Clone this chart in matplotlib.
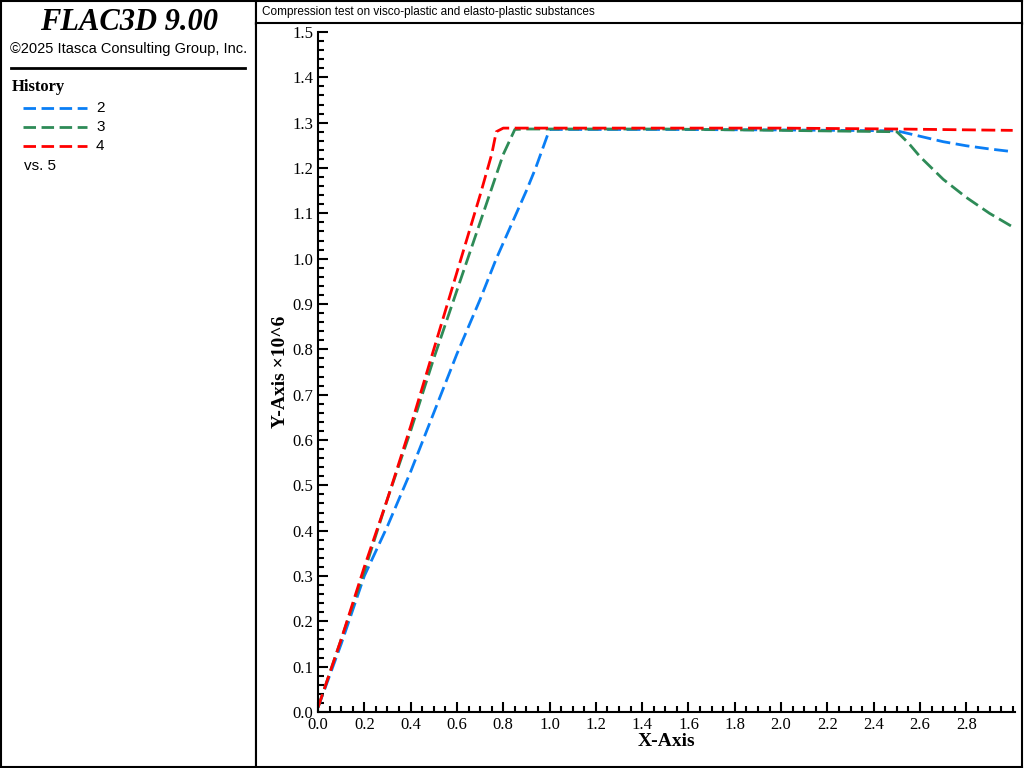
import matplotlib.pyplot as plt
from matplotlib.ticker import MultipleLocator

# history data (y in units of 1e6)
x_h2 = [0.0, 0.1, 0.2, 0.3, 0.4, 0.5, 0.6, 0.7, 0.77, 0.9, 0.94, 1.0, 1.5, 2.0, 2.5, 2.6, 2.7, 2.8, 2.9, 3.0]
y_h2 = [0.01, 0.15, 0.30, 0.41, 0.53, 0.66, 0.79, 0.91, 1.0, 1.15, 1.2, 1.285, 1.285, 1.284, 1.282, 1.270, 1.258, 1.249, 1.242, 1.236]
x_h3 = [0.0, 0.1, 0.2, 0.3, 0.4, 0.5, 0.6, 0.7, 0.8, 0.85, 0.9, 1.5, 2.0, 2.5, 2.55, 2.6, 2.7, 2.8, 2.9, 3.0]
y_h3 = [0.01, 0.16, 0.31, 0.47, 0.62, 0.78, 0.93, 1.08, 1.23, 1.285, 1.286, 1.286, 1.283, 1.280, 1.255, 1.225, 1.175, 1.135, 1.10, 1.07]
x_h4 = [0.0, 0.1, 0.2, 0.3, 0.4, 0.5, 0.6, 0.7, 0.75, 0.77, 0.8, 1.5, 2.0, 2.5, 3.0]
y_h4 = [0.01, 0.16, 0.32, 0.47, 0.63, 0.80, 0.97, 1.14, 1.23, 1.28, 1.288, 1.288, 1.288, 1.286, 1.283]

series = [("2", x_h2, y_h2, "#0a7ef5"), ("3", x_h3, y_h3, "#2e8b57"), ("4", x_h4, y_h4, "#ff0000")]

fig = plt.figure(figsize=(10.24, 7.68), dpi=100)
W, H = 1024, 768

# left info panel
pan = fig.add_axes([1 / W, 1 / H, 255 / W, 766 / H])
pan.set_xticks([]); pan.set_yticks([])
pan.set_xlim(0, 255); pan.set_ylim(766, 0)
for s in pan.spines.values():
    s.set_linewidth(1.5)
pan.text(128, 22, "FLAC3D 9.00", fontsize=22, family="Liberation Serif", style="italic", weight="bold",
         ha="center", va="center")
pan.text(128, 48, "\u00a92025 Itasca Consulting Group, Inc.", fontsize=10.5, family="Liberation Sans", ha="center", va="center")
pan.plot([10, 244], [67, 67], color="black", lw=2)
pan.text(11, 86, "History", fontsize=12, family="Liberation Serif", weight="bold", va="center")
for i, (name, _, _, col) in enumerate(series):
    yy = 107 + i * 19
    pan.plot([22, 86], [yy, yy], color=col, lw=2, ls=(0, (4.5, 2)))
    pan.text(95, yy, name, fontsize=11, family="Liberation Sans", va="center")
pan.text(23, 165, "vs. 5", fontsize=11, family="Liberation Sans", va="center")

# title box
tb = fig.add_axes([256 / W, 744 / H, 766 / W, 23 / H])
tb.set_xticks([]); tb.set_yticks([])
for s in tb.spines.values():
    s.set_linewidth(1.5)
tb.text(0.008, 0.5, "Compression test on visco-plastic and elasto-plastic substances", fontsize=8.5,
        family="Liberation Sans", va="center", transform=tb.transAxes)

# outer plot frame
fr = fig.add_axes([256 / W, 1 / H, 766 / W, 744 / H])
fr.set_xticks([]); fr.set_yticks([])
for s in fr.spines.values():
    s.set_linewidth(1.5)

ax = fig.add_axes([318 / W, (768 - 712) / H, (1015 - 318) / W, (712 - 32) / H])
for name, xs, ys, col in series:
    ax.plot(xs, ys, color=col, lw=2, ls=(0, (5, 2)))
ax.set_xlim(0, 3.01)
ax.set_ylim(0, 1.5)
ax.xaxis.set_major_locator(MultipleLocator(0.2))
ax.xaxis.set_minor_locator(MultipleLocator(0.05))
ax.yaxis.set_major_locator(MultipleLocator(0.1))
ax.yaxis.set_minor_locator(MultipleLocator(0.02))
ax.set_xticks([0.2 * i for i in range(15)])
ax.set_xticklabels([f"{0.2 * i:.1f}" for i in range(15)])
ax.set_yticklabels([f"{t:.1f}" for t in ax.get_yticks()])
ax.tick_params(which="both", direction="in", width=1.5, labelsize=12)
ax.tick_params(which="major", length=7)
ax.tick_params(which="minor", length=4)
ax.spines["top"].set_visible(False)
ax.spines["right"].set_visible(False)
for s in ("left", "bottom"):
    ax.spines[s].set_linewidth(1.5)
for lab in ax.get_xticklabels() + ax.get_yticklabels():
    lab.set_family("Liberation Serif")
ax.set_xlabel("X-Axis", fontsize=14, family="Liberation Serif", weight="bold", labelpad=0)
ax.set_ylabel("Y-Axis \u00d710^6", fontsize=14, family="Liberation Serif", weight="bold", labelpad=2)

fig.savefig("out.png", dpi=100)
